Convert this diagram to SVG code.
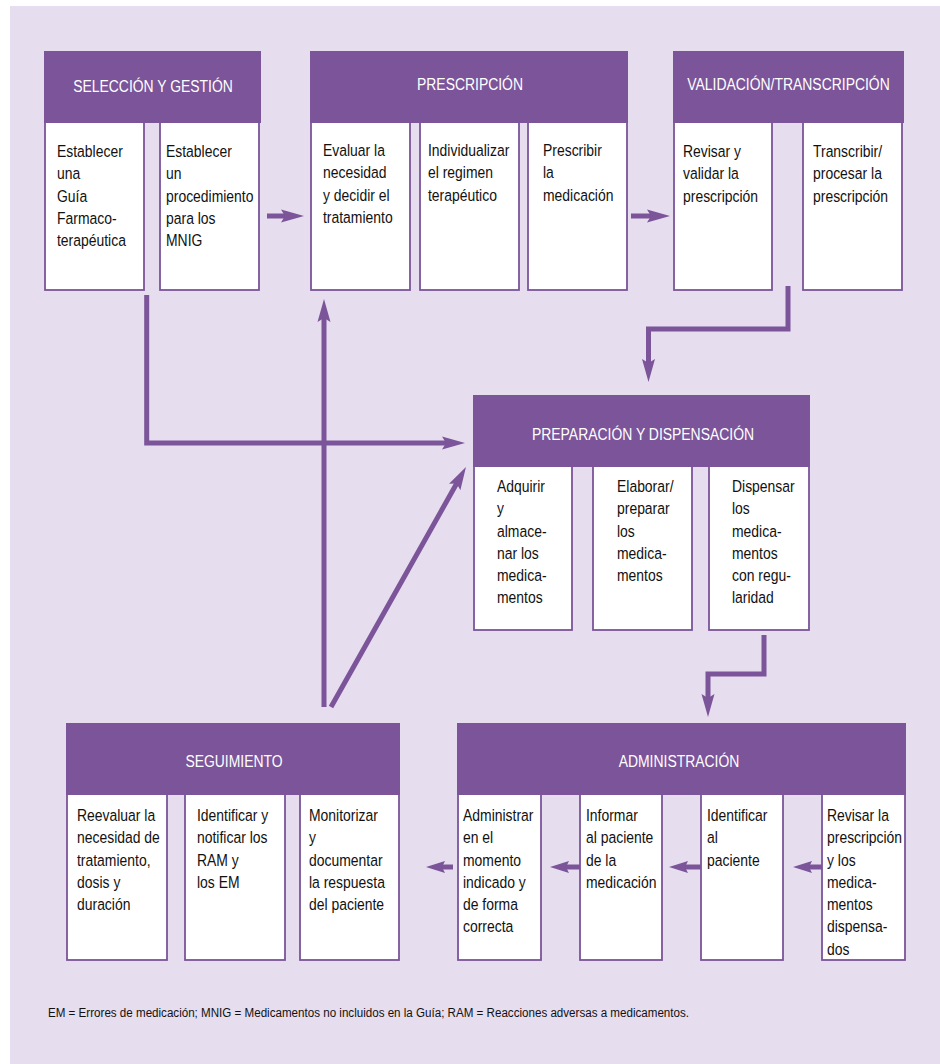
<svg xmlns="http://www.w3.org/2000/svg" width="940" height="1064" viewBox="0 0 940 1064">
<style>
.bg{fill:#E6DDEE}
.hd{fill:#7B5499}
.bx{fill:#fff;stroke:#7B5499;stroke-width:1.8}
.ht{fill:#fff;font-family:"Liberation Sans",Arial,sans-serif;font-size:17px;text-anchor:middle}
.bt{fill:#111;font-family:"Liberation Sans",Arial,sans-serif;font-size:17px}
.ft{fill:#111;font-family:"Liberation Sans",Arial,sans-serif;font-size:12px}
.cn{fill:none;stroke:#7B5499;stroke-width:5;stroke-linejoin:miter}
.ah{fill:#7B5499}
</style>
<defs>
<marker id="ah" markerUnits="userSpaceOnUse" markerWidth="24" markerHeight="14" refX="10" refY="7" orient="auto" overflow="visible">
<path class="ah" d="M0,0.5 L23,7 L0,13.5 L4,7 z"/>
</marker>
<marker id="ah2" markerUnits="userSpaceOnUse" markerWidth="20" markerHeight="13" refX="8" refY="6.5" orient="auto" overflow="visible">
<path class="ah" d="M0,0.5 L19,6.5 L0,12.5 L3,6.5 z"/>
</marker>
</defs>
<rect class="bg" x="10" y="6" width="930" height="1058"/>

<g id="seleccion">
<rect class="bx" x="45" y="115" width="99" height="175"/>
<rect class="bx" x="160" y="115" width="99" height="175"/>
<rect class="hd" x="44" y="51" width="217" height="72"/>
<text class="ht" transform="translate(153 92) scale(0.82 1)">SELECCIÓN Y GESTIÓN</text>
<text class="bt" transform="translate(57 157) scale(0.82 1)"><tspan x="0">Establecer</tspan><tspan x="0" dy="22.3">una</tspan><tspan x="0" dy="22.3">Guía</tspan><tspan x="0" dy="22.3">Farmaco-</tspan><tspan x="0" dy="22.3">terapéutica</tspan></text>
<text class="bt" transform="translate(166 157) scale(0.82 1)"><tspan x="0">Establecer</tspan><tspan x="0" dy="22.3">un</tspan><tspan x="0" dy="22.3">procedimiento</tspan><tspan x="0" dy="22.3">para los</tspan><tspan x="0" dy="22.3">MNIG</tspan></text>
</g>

<g id="prescripcion">
<rect class="bx" x="311" y="115" width="99" height="175"/>
<rect class="bx" x="420" y="115" width="99" height="175"/>
<rect class="bx" x="528" y="115" width="99" height="175"/>
<rect class="hd" x="310" y="51" width="318" height="72"/>
<text class="ht" transform="translate(470 89.5) scale(0.82 1)">PRESCRIPCIÓN</text>
<text class="bt" transform="translate(323 156) scale(0.82 1)"><tspan x="0">Evaluar la</tspan><tspan x="0" dy="22.3">necesidad</tspan><tspan x="0" dy="22.3">y decidir el</tspan><tspan x="0" dy="22.3">tratamiento</tspan></text>
<text class="bt" transform="translate(428 156) scale(0.82 1)"><tspan x="0">Individualizar</tspan><tspan x="0" dy="22.3">el regimen</tspan><tspan x="0" dy="22.3">terapéutico</tspan></text>
<text class="bt" transform="translate(543 156) scale(0.82 1)"><tspan x="0">Prescribir</tspan><tspan x="0" dy="22.3">la</tspan><tspan x="0" dy="22.3">medicación</tspan></text>
</g>

<g id="validacion">
<rect class="bx" x="674" y="115" width="98" height="175"/>
<rect class="bx" x="803" y="115" width="99" height="175"/>
<rect class="hd" x="673" y="51" width="231" height="72"/>
<text class="ht" transform="translate(788.5 89.5) scale(0.82 1)">VALIDACIÓN/TRANSCRIPCIÓN</text>
<text class="bt" transform="translate(683 157) scale(0.82 1)"><tspan x="0">Revisar y</tspan><tspan x="0" dy="22.3">validar la</tspan><tspan x="0" dy="22.3">prescripción</tspan></text>
<text class="bt" transform="translate(813 157) scale(0.82 1)"><tspan x="0">Transcribir/</tspan><tspan x="0" dy="22.3">procesar la</tspan><tspan x="0" dy="22.3">prescripción</tspan></text>
</g>

<g id="preparacion">
<rect class="bx" x="474" y="459" width="98" height="171"/>
<rect class="bx" x="593" y="459" width="99" height="171"/>
<rect class="bx" x="709" y="459" width="100" height="171"/>
<rect class="hd" x="473" y="395" width="337" height="72"/>
<text class="ht" transform="translate(643 440) scale(0.82 1)">PREPARACIÓN Y DISPENSACIÓN</text>
<text class="bt" transform="translate(497 492) scale(0.82 1)"><tspan x="0">Adquirir</tspan><tspan x="0" dy="22.3">y</tspan><tspan x="0" dy="22.3">almace-</tspan><tspan x="0" dy="22.3">nar los</tspan><tspan x="0" dy="22.3">medica-</tspan><tspan x="0" dy="22.3">mentos</tspan></text>
<text class="bt" transform="translate(617 492) scale(0.82 1)"><tspan x="0">Elaborar/</tspan><tspan x="0" dy="22.3">preparar</tspan><tspan x="0" dy="22.3">los</tspan><tspan x="0" dy="22.3">medica-</tspan><tspan x="0" dy="22.3">mentos</tspan></text>
<text class="bt" transform="translate(732 492) scale(0.82 1)"><tspan x="0">Dispensar</tspan><tspan x="0" dy="22.3">los</tspan><tspan x="0" dy="22.3">medica-</tspan><tspan x="0" dy="22.3">mentos</tspan><tspan x="0" dy="22.3">con regu-</tspan><tspan x="0" dy="22.3">laridad</tspan></text>
</g>

<g id="seguimiento">
<rect class="bx" x="67" y="787" width="100" height="173"/>
<rect class="bx" x="185" y="787" width="100" height="173"/>
<rect class="bx" x="300" y="787" width="99" height="173"/>
<rect class="hd" x="66" y="723" width="334" height="72"/>
<text class="ht" transform="translate(234 767) scale(0.82 1)">SEGUIMIENTO</text>
<text class="bt" transform="translate(77 821) scale(0.82 1)"><tspan x="0">Reevaluar la</tspan><tspan x="0" dy="22.3">necesidad de</tspan><tspan x="0" dy="22.3">tratamiento,</tspan><tspan x="0" dy="22.3">dosis y</tspan><tspan x="0" dy="22.3">duración</tspan></text>
<text class="bt" transform="translate(197 821) scale(0.82 1)"><tspan x="0">Identificar y</tspan><tspan x="0" dy="22.3">notificar los</tspan><tspan x="0" dy="22.3">RAM y</tspan><tspan x="0" dy="22.3">los EM</tspan></text>
<text class="bt" transform="translate(309 821) scale(0.82 1)"><tspan x="0">Monitorizar</tspan><tspan x="0" dy="22.3">y</tspan><tspan x="0" dy="22.3">documentar</tspan><tspan x="0" dy="22.3">la respuesta</tspan><tspan x="0" dy="22.3">del paciente</tspan></text>
</g>

<g id="administracion">
<rect class="bx" x="458" y="787" width="83" height="173"/>
<rect class="bx" x="580" y="787" width="82" height="173"/>
<rect class="bx" x="701" y="787" width="82" height="173"/>
<rect class="bx" x="822" y="787" width="83" height="173"/>
<rect class="hd" x="457" y="723" width="449" height="72"/>
<text class="ht" transform="translate(679 767) scale(0.82 1)">ADMINISTRACIÓN</text>
<text class="bt" transform="translate(463 821) scale(0.82 1)"><tspan x="0">Administrar</tspan><tspan x="0" dy="22.3">en el</tspan><tspan x="0" dy="22.3">momento</tspan><tspan x="0" dy="22.3">indicado y</tspan><tspan x="0" dy="22.3">de forma</tspan><tspan x="0" dy="22.3">correcta</tspan></text>
<text class="bt" transform="translate(586 821) scale(0.82 1)"><tspan x="0">Informar</tspan><tspan x="0" dy="22.3">al paciente</tspan><tspan x="0" dy="22.3">de la</tspan><tspan x="0" dy="22.3">medicación</tspan></text>
<text class="bt" transform="translate(707 821) scale(0.82 1)"><tspan x="0">Identificar</tspan><tspan x="0" dy="22.3">al</tspan><tspan x="0" dy="22.3">paciente</tspan></text>
<text class="bt" transform="translate(827 821) scale(0.82 1)"><tspan x="0">Revisar la</tspan><tspan x="0" dy="22.3">prescripción</tspan><tspan x="0" dy="22.3">y los</tspan><tspan x="0" dy="22.3">medica-</tspan><tspan x="0" dy="22.3">mentos</tspan><tspan x="0" dy="22.3">dispensa-</tspan><tspan x="0" dy="22.3">dos</tspan></text>
</g>

<g id="connectors">
<path class="cn" d="M267,216 H291" marker-end="url(#ah)"/>
<path class="cn" d="M631,216 H657" marker-end="url(#ah)"/>
<path class="cn" d="M146.7,295 V443 H452" marker-end="url(#ah)"/>
<path class="cn" d="M324,707 V312" marker-end="url(#ah)"/>
<path class="cn" d="M331,707 L459.6,478.3" marker-end="url(#ah)"/>
<path class="cn" d="M788,286 V329 H648.5 V369" marker-end="url(#ah)"/>
<path class="cn" d="M764,635 V674 H708 V704" marker-end="url(#ah)"/>
<path class="cn" d="M822,867 H804" marker-end="url(#ah2)"/>
<path class="cn" d="M701,867 H680" marker-end="url(#ah2)"/>
<path class="cn" d="M580,867 H561" marker-end="url(#ah2)"/>
<path class="cn" d="M453,867 H437" marker-end="url(#ah2)"/>
</g>

<text class="ft" x="48" y="1017" textLength="641" lengthAdjust="spacingAndGlyphs">EM = Errores de medicación; MNIG = Medicamentos no incluidos en la Guía; RAM = Reacciones adversas a medicamentos.</text>
</svg>
